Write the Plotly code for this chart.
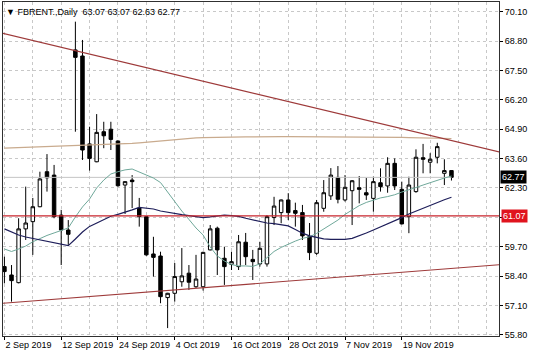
import plotly.graph_objects as go

# ---------------- data ----------------
bar_index = list(range(64))

opens = [58.82, 58.45, 58.11, 60.49, 60.81, 61.47, 63.02, 62.87, 61.10, 60.44,
         68.41, 68.14, 64.25, 63.46, 64.79, 64.90, 64.38, 62.43, 62.65, 61.41,
         61.03, 59.38, 59.29, 57.45, 57.64, 58.15, 58.53, 57.93, 57.93, 59.56,
         60.52, 59.19, 58.92, 58.82, 59.90, 59.14, 58.94, 58.94, 60.99, 61.21,
         61.77, 61.30, 61.21, 60.15, 59.41, 61.40, 61.95, 62.77, 61.77, 62.18,
         62.31, 62.09, 61.84, 62.53, 62.39, 63.39, 62.24, 61.03, 62.14, 63.64,
         63.44, 63.66, 62.95, 63.07]
highs = [59.26, 58.89, 60.96, 62.36, 61.86, 63.02, 63.80, 63.32, 61.33, 60.88,
         69.66, 68.85, 65.01, 65.57, 65.23, 65.23, 64.40, 62.60, 62.87, 61.86,
         61.05, 60.14, 59.48, 57.66, 58.98, 59.64, 58.89, 59.34, 59.48, 60.66,
         60.59, 59.70, 59.48, 60.22, 60.31, 59.56, 59.92, 61.10, 61.91, 61.79,
         62.07, 61.65, 61.55, 60.75, 61.77, 62.65, 63.18, 63.27, 62.87, 62.65,
         62.83, 62.74, 62.80, 63.17, 63.66, 63.61, 62.58, 62.80, 64.01, 64.25,
         63.84, 64.30, 63.57, 63.07]
lows = [58.08, 57.27, 58.08, 60.00, 59.34, 61.45, 62.14, 60.96, 58.89, 59.78,
        64.79, 63.54, 63.07, 63.44, 64.06, 63.98, 62.35, 61.15, 61.41, 60.59,
        59.30, 58.38, 57.20, 56.10, 57.27, 57.93, 57.79, 57.88, 57.76, 59.54,
        58.45, 58.01, 58.67, 58.67, 58.89, 58.23, 58.82, 58.82, 60.66, 60.74,
        60.88, 60.59, 60.00, 59.11, 59.34, 61.25, 61.77, 61.62, 61.70, 60.66,
        61.62, 61.77, 61.25, 62.14, 62.09, 62.21, 60.69, 60.30, 62.09, 62.95,
        62.95, 63.39, 62.43, 62.63]
closes = [58.60, 58.20, 60.49, 60.75, 61.47, 62.70, 62.75, 61.03, 60.44, 60.25,
          68.08, 63.98, 63.61, 64.76, 64.61, 64.45, 62.40, 62.58, 62.58, 61.03,
          59.34, 59.23, 57.49, 57.64, 58.38, 58.41, 58.13, 58.27, 59.45, 60.49,
          59.56, 58.82, 59.04, 59.92, 59.26, 59.04, 59.63, 61.03, 61.50, 61.77,
          61.21, 61.18, 60.18, 59.44, 61.65, 62.09, 62.87, 61.80, 62.33, 62.62,
          62.24, 61.99, 62.58, 62.36, 63.39, 62.39, 60.71, 62.43, 63.66, 63.57,
          63.57, 64.13, 63.07, 62.77]

ma_fast = [59.60, 59.49, 59.60, 59.73, 59.92, 60.07, 60.20, 60.31, 60.42, 60.53,
           61.02, 61.46, 61.81, 62.30, 62.65, 62.92, 63.02, 63.10, 63.14, 63.01,
           62.87, 62.74, 62.54, 62.12, 61.68, 61.28, 60.91, 60.53, 60.22, 59.69,
           59.29, 59.07, 58.91, 58.85, 58.85, 58.83, 58.94, 59.20, 59.49, 59.67,
           59.82, 59.95, 60.07, 60.14, 60.29, 60.49, 60.68, 60.88, 61.13, 61.33,
           61.52, 61.66, 61.77, 61.86, 61.92, 62.00, 62.12, 62.21, 62.32, 62.43,
           62.54, 62.65, 62.74, 62.83]
ma_slow = [60.49, 60.35, 60.22, 60.13, 60.07, 60.02, 59.95, 59.89, 59.82, 59.75,
           60.04, 60.35, 60.60, 60.75, 60.91, 61.05, 61.13, 61.22, 61.33, 61.44,
           61.41, 61.37, 61.28, 61.22, 61.17, 61.12, 61.08, 61.03, 60.99, 61.02,
           61.06, 61.10, 61.08, 61.04, 60.96, 60.89, 60.81, 60.75, 60.72, 60.68,
           60.62, 60.46, 60.30, 60.18, 60.10, 60.05, 60.03, 60.03, 60.03, 60.07,
           60.18, 60.31, 60.44, 60.57, 60.71, 60.84, 60.99, 61.15, 61.28, 61.41,
           61.55, 61.67, 61.78, 61.89]
ma_long = [64.06, 64.07, 64.08, 64.09, 64.10, 64.11, 64.12, 64.13, 64.14, 64.15,
           64.16, 64.17, 64.18, 64.19, 64.20, 64.21, 64.22, 64.24, 64.27, 64.30,
           64.33, 64.36, 64.39, 64.42, 64.45, 64.48, 64.50, 64.52, 64.53, 64.54,
           64.54, 64.55, 64.55, 64.55, 64.56, 64.56, 64.57, 64.57, 64.57, 64.57,
           64.57, 64.57, 64.57, 64.57, 64.57, 64.57, 64.57, 64.57, 64.57, 64.57,
           64.57, 64.57, 64.57, 64.57, 64.56, 64.55, 64.54, 64.53, 64.52, 64.51,
           64.51, 64.50, 64.50, 64.49]

# trend line anchor points (bar index, price)
upper_trend_x = [-1, 70]
upper_trend_y = [69.20, 63.87]
lower_trend_x = [-1, 70]
lower_trend_y = [57.18, 58.91]
support_level = 61.07
last_price = 62.77

date_tick_index = [0, 8, 16, 24, 32, 40, 48, 56]
date_tick_labels = ["2 Sep 2019", "12 Sep 2019", "24 Sep 2019", "4 Oct 2019",
                    "16 Oct 2019", "28 Oct 2019", "7 Nov 2019", "19 Nov 2019"]
price_ticks = [55.80, 57.10, 58.40, 59.70, 61.00, 62.30, 63.60, 64.90, 66.20, 67.50, 68.80, 70.10]
price_tick_labels = ["55.80", "57.10", "58.40", "59.70", "", "62.30", "63.60", "64.90",
                     "66.20", "67.50", "68.80", "70.10"]

header_text = "FBRENT.,Daily  63.07 63.07 62.63 62.77"

# ---------------- figure ----------------
FONT = "Liberation Sans, Arial, sans-serif"
fig = go.Figure()

fig.add_trace(go.Scatter(x=bar_index, y=[last_price] * len(bar_index), mode="lines",
                         line=dict(color="#c4c4c4", width=1), hoverinfo="skip"))
fig.add_trace(go.Scatter(x=bar_index, y=ma_long, mode="lines",
                         line=dict(color="#c9ab8e", width=1.2), hoverinfo="skip"))

fig.add_trace(go.Candlestick(
    x=bar_index, open=opens, high=highs, low=lows, close=closes,
    increasing=dict(line=dict(color="#000000", width=1), fillcolor="#ffffff"),
    decreasing=dict(line=dict(color="#000000", width=1), fillcolor="#000000"),
    whiskerwidth=0, hoverinfo="skip"))

fig.add_trace(go.Scatter(x=bar_index, y=ma_fast, mode="lines",
                         line=dict(color="#6fa89a", width=1), hoverinfo="skip"))
fig.add_trace(go.Scatter(x=bar_index, y=ma_slow, mode="lines",
                         line=dict(color="#1e1e5a", width=1.2), hoverinfo="skip"))
fig.add_trace(go.Scatter(x=upper_trend_x, y=upper_trend_y, mode="lines",
                         line=dict(color="#9e3a3a", width=1.2), hoverinfo="skip"))
fig.add_trace(go.Scatter(x=lower_trend_x, y=lower_trend_y, mode="lines",
                         line=dict(color="#9e3a3a", width=1.2), hoverinfo="skip"))
fig.add_trace(go.Scatter(x=[-1, 70], y=[support_level, support_level], mode="lines",
                         line=dict(color="#c8242c", width=1.2), hoverinfo="skip"))

grid = dict(showgrid=True, gridcolor="#c8c8c8", gridwidth=1, griddash="3px,3px")

fig.update_layout(
    width=536, height=358,
    margin=dict(l=3, r=37, t=2, b=22),
    paper_bgcolor="white", plot_bgcolor="white",
    showlegend=False,
    font=dict(family=FONT, size=9, color="black"),
    xaxis=dict(
        range=[-0.2, 69.7], rangeslider=dict(visible=False),
        tickmode="array", tickvals=date_tick_index, ticktext=date_tick_labels,
        tickangle=0,
        ticks="outside", ticklen=3, tickcolor="black",
        ticklabelposition="outside right",
        showline=True, linecolor="#303030", linewidth=1, mirror=True,
        zeroline=False, automargin=False,
        minor=dict(tick0=0, dtick=4, showgrid=True, gridcolor="#c8c8c8",
                   griddash="3px,3px", ticks=""),
        **grid),
    yaxis=dict(
        range=[55.75, 70.53], side="right",
        tickmode="array", tickvals=price_ticks, ticktext=price_tick_labels,
        ticks="outside", ticklen=3, tickcolor="black",
        showline=True, linecolor="#303030", linewidth=1, mirror=True,
        zeroline=False, automargin=False,
        **grid),
)

fig.add_annotation(xref="paper", yref="y", x=1, y=last_price, xanchor="left",
                   xshift=1, text=f"{last_price:.2f}", showarrow=False,
                   bgcolor="black", font=dict(color="white", size=9, family=FONT),
                   borderpad=1)
fig.add_annotation(xref="paper", yref="y", x=1, y=support_level, xanchor="left",
                   xshift=2, text=f"{support_level:.2f}", showarrow=False,
                   bgcolor="#e0141e", font=dict(color="white", size=9, family=FONT),
                   borderpad=1)
fig.add_annotation(xref="paper", yref="paper", x=0, y=1, xanchor="left", yanchor="top",
                   xshift=1, yshift=-3, text="▼ " + header_text, showarrow=False,
                   font=dict(color="black", size=9, family=FONT), bgcolor="rgba(255,255,255,0)")

fig.write_html("out.html", config={"displayModeBar": False},
               post_script="document.body.style.margin='0';document.body.style.overflow='hidden';")
